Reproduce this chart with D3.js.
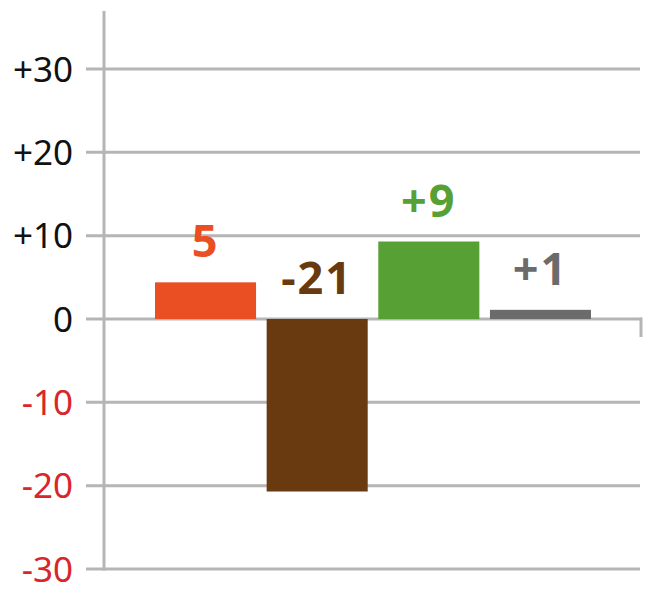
<!DOCTYPE html>
<html><head><meta charset="utf-8">
<script src="https://cdn.jsdelivr.net/npm/d3@7"></script>
<style>html,body{margin:0;padding:0;background:#fff;}svg{display:block;}</style>
</head><body>
<svg id="chart" width="655" height="602"></svg>
<script>
const categories = ["A", "B", "C", "D"];
const values = [4.4, -20.7, 9.3, 1.1];
const valueLabels = ["5", "-21", "+9", "+1"];
const colors = ["#E94F23", "#693910", "#56A034", "#6B6B6B"];
const tickValues = [-30, -20, -10, 0, 10, 20, 30];
const tickLabels = ["-30", "-20", "-10", "0", "+10", "+20", "+30"];

const svg = d3.select("#chart");
const gridColor = "#B5B5B5";
const y = d3.scaleLinear().domain([-30, 30]).range([569, 69]);
const x = d3.scaleBand().domain(categories).range([155, 591]).paddingInner(0.095).paddingOuter(0);

// gridlines
svg.append("g").selectAll("line").data(tickValues).join("line")
  .attr("x1", 86).attr("x2", d => d === 0 ? 642 : 640)
  .attr("y1", d => y(d)).attr("y2", d => y(d))
  .attr("stroke", gridColor).attr("stroke-width", 3);

// right tick on zero line
svg.append("line").attr("x1", 641).attr("x2", 641)
  .attr("y1", y(0) - 1.5).attr("y2", y(0) + 18)
  .attr("stroke", gridColor).attr("stroke-width", 3);

// y axis line
svg.append("line").attr("x1", 104).attr("x2", 104)
  .attr("y1", 11).attr("y2", y(-30) + 1.5)
  .attr("stroke", gridColor).attr("stroke-width", 3);

// tick labels
svg.append("g").selectAll("text").data(tickValues).join("text")
  .attr("x", 73).attr("y", d => y(d))
  .attr("dy", "0.36em")
  .attr("text-anchor", "end")
  .attr("font-family", "'Noto Sans', sans-serif")
  .attr("font-size", 35)
  .attr("fill", d => d < 0 ? "#D8262B" : "#111")
  .text((d, i) => tickLabels[i]);

// bars
svg.append("g").selectAll("rect").data(values).join("rect")
  .attr("x", (d, i) => x(categories[i]))
  .attr("width", x.bandwidth())
  .attr("y", d => y(Math.max(d, 0)))
  .attr("height", d => Math.abs(y(d) - y(0)))
  .attr("fill", (d, i) => colors[i]);

// value labels
svg.append("g").selectAll("text").data(values).join("text")
  .attr("x", (d, i) => x(categories[i]) + x.bandwidth() / 2)
  .attr("y", d => y(Math.max(d, 0)) - 25)
  .attr("text-anchor", "middle")
  .attr("font-family", "'Noto Sans', sans-serif")
  .attr("font-weight", "bold")
  .attr("font-size", 45)
  .attr("letter-spacing", 2)
  .attr("fill", (d, i) => colors[i])
  .text((d, i) => valueLabels[i]);
</script>
</body></html>
